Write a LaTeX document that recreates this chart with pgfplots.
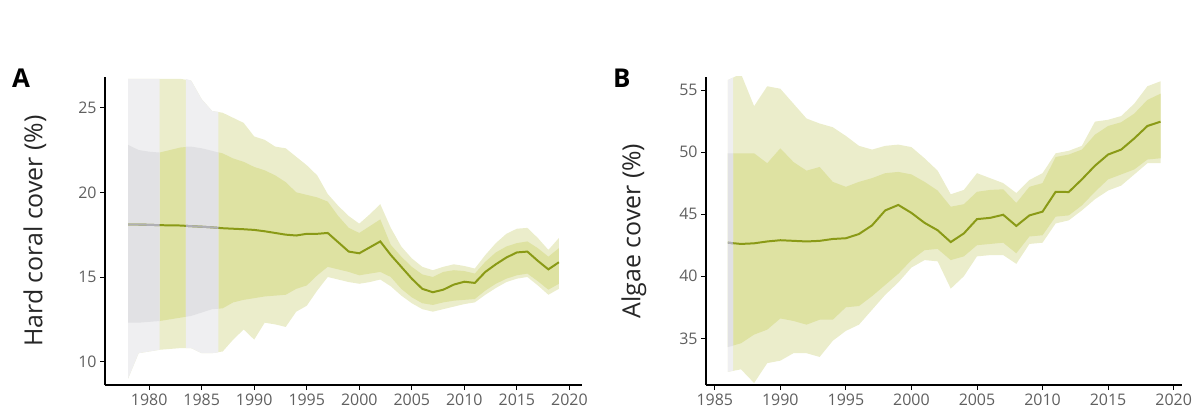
\documentclass[border=0pt]{standalone}
\usepackage{fontspec}
\setmainfont{Open Sans}
\usepackage{pgfplots}
\pgfplotsset{compat=1.18}

\definecolor{gOut}{RGB}{235,237,203}
\definecolor{gIn}{RGB}{222,226,162}
\definecolor{sOut}{RGB}{239,239,241}
\definecolor{sIn}{RGB}{225,225,228}
\definecolor{lineG}{RGB}{138,154,22}
\definecolor{lineS}{RGB}{175,175,180}
\definecolor{tickc}{RGB}{95,95,95}

\pgfplotsset{
  panel/.style={
    scale only axis,
    axis lines*=left,
    axis line style={-, black, line width=1.1pt},
    tick style={black, line width=0.9pt},
    tick align=outside,
    major tick length=5bp,
    ticklabel style={font=\fontsize{16}{16}\selectfont, text=tickc},
    /pgf/number format/assume math mode=true,
    /pgf/number format/1000 sep={},
    xtick={1980,1985,...,2020},
    clip=true,
  },
}

\begin{document}
\begin{tikzpicture}
\path[use as bounding box] (0,0) rectangle (1204bp,414bp);

% Panel A
\begin{axis}[panel, at={(105bp,29bp)}, anchor=south west,
  width=477bp, height=308.3bp,
  xmin=1975.8, xmax=2021.2, ymin=8.62, ymax=26.83,
  ytick={10,15,20,25}]
  % outer band (upper forward, lower backward)
  \addplot[fill=gOut, draw=none] coordinates {
   (1978,26.70) (1979,26.70) (1980,26.70) (1981,26.70) (1982,26.70) (1983,26.70) (1984,26.60)
   (1985,25.50) (1986,24.80) (1987,24.70) (1988,24.40) (1989,24.10) (1990,23.30) (1991,23.10)
   (1992,22.70) (1993,22.60) (1994,22.10) (1995,21.60) (1996,21.00) (1997,19.90) (1998,19.20)
   (1999,18.60) (2000,18.15) (2001,18.70) (2002,19.30) (2003,17.90) (2004,16.80) (2005,16.10)
   (2006,15.60) (2007,15.40) (2008,15.60) (2009,15.75) (2010,15.65) (2011,15.50) (2012,16.30)
   (2013,17.00) (2014,17.55) (2015,17.85) (2016,17.90) (2017,17.30) (2018,16.60) (2019,17.30)
   (2019,14.30) (2018,13.95) (2017,14.50) (2016,15.00) (2015,14.90) (2014,14.70) (2013,14.35)
   (2012,13.95) (2011,13.50) (2010,13.40) (2009,13.25) (2008,13.10) (2007,12.95) (2006,13.10)
   (2005,13.45) (2004,13.90) (2003,14.45) (2002,14.85) (2001,14.70) (2000,14.60) (1999,14.70)
   (1998,14.85) (1997,15.00) (1996,14.20) (1995,13.30) (1994,12.95) (1993,12.05) (1992,12.20)
   (1991,12.30) (1990,11.30) (1989,11.90) (1988,11.30) (1987,10.60) (1986,10.50) (1985,10.50)
   (1984,10.80) (1983,10.80) (1982,10.75) (1981,10.70) (1980,10.60) (1979,10.50) (1978,9.00)
  } -- cycle;
  % inner band
  \addplot[fill=gIn, draw=none] coordinates {
   (1978,22.80) (1979,22.50) (1980,22.40) (1981,22.35) (1982,22.50) (1983,22.65) (1984,22.70)
   (1985,22.60) (1986,22.45) (1987,22.30) (1988,22.00) (1989,21.80) (1990,21.50) (1991,21.30)
   (1992,21.00) (1993,20.60) (1994,20.00) (1995,19.85) (1996,19.70) (1997,19.45) (1998,18.60)
   (1999,17.90) (2000,17.60) (2001,18.00) (2002,18.40) (2003,16.90) (2004,16.20) (2005,15.60)
   (2006,15.15) (2007,15.00) (2008,15.30) (2009,15.40) (2010,15.35) (2011,15.20) (2012,15.90)
   (2013,16.45) (2014,16.80) (2015,17.00) (2016,17.10) (2017,16.70) (2018,16.20) (2019,16.70)
   (2019,14.60) (2018,14.25) (2017,14.75) (2016,15.20) (2015,15.10) (2014,14.90) (2013,14.60)
   (2012,14.20) (2011,13.70) (2010,13.65) (2009,13.60) (2008,13.50) (2007,13.35) (2006,13.45)
   (2005,13.80) (2004,14.30) (2003,15.00) (2002,15.30) (2001,15.20) (2000,15.10) (1999,15.30)
   (1998,15.45) (1997,15.60) (1996,15.10) (1995,14.50) (1994,14.30) (1993,13.95) (1992,13.90)
   (1991,13.85) (1990,13.75) (1989,13.65) (1988,13.50) (1987,13.15) (1986,13.10) (1985,12.90)
   (1984,12.70) (1983,12.60) (1982,12.50) (1981,12.40) (1980,12.35) (1979,12.30) (1978,12.30)
  } -- cycle;
  % grey (gap) segments: outer
  \addplot[fill=sOut, draw=none] coordinates {
   (1978,26.70) (1979,26.70) (1980,26.70) (1981,26.70)
   (1981,10.70) (1980,10.60) (1979,10.50) (1978,9.00)
  } -- cycle;
  \addplot[fill=sOut, draw=none] coordinates {
   (1983.5,26.70) (1984,26.60) (1985,25.50) (1986,24.80) (1986.6,24.75)
   (1986.6,10.55) (1986,10.50) (1985,10.50) (1984,10.80) (1983.5,10.80)
  } -- cycle;
  % grey (gap) segments: inner
  \addplot[fill=sIn, draw=none] coordinates {
   (1978,22.80) (1979,22.50) (1980,22.40) (1981,22.35)
   (1981,12.40) (1980,12.35) (1979,12.30) (1978,12.30)
  } -- cycle;
  \addplot[fill=sIn, draw=none] coordinates {
   (1983.5,22.70) (1984,22.70) (1985,22.60) (1986,22.45) (1986.6,22.35)
   (1986.6,13.12) (1986,13.10) (1985,12.90) (1984,12.70) (1983.5,12.65)
  } -- cycle;
  % mean line
  \addplot[lineG, line width=2pt] coordinates {
   (1978,18.10) (1979,18.10) (1980,18.08) (1981,18.06) (1982,18.05) (1983,18.04) (1984,18.00)
   (1985,17.97) (1986,17.93) (1987,17.88) (1988,17.85) (1989,17.82) (1990,17.78) (1991,17.70)
   (1992,17.60) (1993,17.50) (1994,17.45) (1995,17.55) (1996,17.55) (1997,17.60) (1998,17.05)
   (1999,16.50) (2000,16.40) (2001,16.75) (2002,17.10) (2003,16.30) (2004,15.60) (2005,14.90)
   (2006,14.30) (2007,14.10) (2008,14.25) (2009,14.55) (2010,14.72) (2011,14.65) (2012,15.30)
   (2013,15.75) (2014,16.15) (2015,16.45) (2016,16.50) (2017,15.95) (2018,15.45) (2019,15.87)
  };
  \addplot[lineS, line width=2pt] coordinates {
   (1978,18.10) (1979,18.10) (1980,18.08) (1981,18.06)
  };
  \addplot[lineS, line width=2pt] coordinates {
   (1983.5,18.02) (1984,18.00) (1985,17.97) (1986,17.93) (1986.6,17.90)
  };
\end{axis}

% Panel B
\begin{axis}[panel, at={(706bp,29bp)}, anchor=south west,
  width=476bp, height=308.3bp,
  xmin=1984.33, xmax=2020.64, ymin=31.24, ymax=56.07,
  ytick={35,40,45,50,55}]
  \addplot[fill=gOut, draw=none] coordinates {
   (1986,55.80) (1987,56.30) (1988,53.70) (1989,55.30) (1990,55.10) (1991,53.90) (1992,52.70)
   (1993,52.30) (1994,52.00) (1995,51.30) (1996,50.50) (1997,50.20) (1998,50.50) (1999,50.60)
   (2000,50.40) (2001,49.50) (2002,48.50) (2003,46.60) (2004,46.95) (2005,48.30) (2006,47.90)
   (2007,47.50) (2008,46.70) (2009,47.75) (2010,48.30) (2011,49.90) (2012,50.10) (2013,50.50)
   (2014,52.45) (2015,52.60) (2016,52.90) (2017,53.90) (2018,55.30) (2019,55.70)
   (2019,49.10) (2018,49.10) (2017,48.20) (2016,47.30) (2015,46.90) (2014,46.20) (2013,45.30)
   (2012,44.50) (2011,44.25) (2010,42.70) (2009,42.60) (2008,41.00) (2007,41.70) (2006,41.70)
   (2005,41.60) (2004,40.00) (2003,39.00) (2002,41.20) (2001,41.30) (2000,40.70) (1999,39.50)
   (1998,38.50) (1997,37.30) (1996,36.10) (1995,35.60) (1994,34.80) (1993,33.50) (1992,33.80)
   (1991,33.80) (1990,33.20) (1989,33.00) (1988,31.40) (1987,32.50) (1986,32.30)
  } -- cycle;
  \addplot[fill=gIn, draw=none] coordinates {
   (1986,49.90) (1987,49.90) (1988,49.90) (1989,49.10) (1990,50.30) (1991,49.20) (1992,48.50)
   (1993,48.80) (1994,47.60) (1995,47.20) (1996,47.60) (1997,47.90) (1998,48.30) (1999,48.40)
   (2000,48.20) (2001,47.60) (2002,46.90) (2003,45.60) (2004,45.80) (2005,46.80) (2006,46.95)
   (2007,47.00) (2008,45.90) (2009,47.20) (2010,47.50) (2011,49.60) (2012,49.80) (2013,50.20)
   (2014,51.40) (2015,52.10) (2016,52.40) (2017,53.10) (2018,54.20) (2019,54.70)
   (2019,49.50) (2018,49.40) (2017,48.60) (2016,48.20) (2015,47.80) (2014,46.80) (2013,45.70)
   (2012,44.90) (2011,44.80) (2010,43.30) (2009,43.20) (2008,41.85) (2007,42.70) (2006,42.60)
   (2005,42.50) (2004,41.60) (2003,41.30) (2002,42.20) (2001,42.10) (2000,41.30) (1999,40.20)
   (1998,39.30) (1997,38.40) (1996,37.60) (1995,37.50) (1994,36.50) (1993,36.50) (1992,36.10)
   (1991,36.40) (1990,36.60) (1989,35.70) (1988,35.30) (1987,34.60) (1986,34.30)
  } -- cycle;
  \addplot[fill=sOut, draw=none] coordinates {
   (1986,55.80) (1986.4,56.00) (1986.4,32.40) (1986,32.30)
  } -- cycle;
  \addplot[fill=sIn, draw=none] coordinates {
   (1986,49.90) (1986.4,49.90) (1986.4,34.40) (1986,34.30)
  } -- cycle;
  \addplot[lineG, line width=2pt] coordinates {
   (1986,42.70) (1987,42.60) (1988,42.65) (1989,42.80) (1990,42.90) (1991,42.85) (1992,42.80)
   (1993,42.85) (1994,43.00) (1995,43.06) (1996,43.40) (1997,44.10) (1998,45.30) (1999,45.74)
   (2000,45.10) (2001,44.30) (2002,43.70) (2003,42.75) (2004,43.45) (2005,44.60) (2006,44.70)
   (2007,44.95) (2008,44.05) (2009,44.90) (2010,45.20) (2011,46.80) (2012,46.78) (2013,47.80)
   (2014,48.90) (2015,49.80) (2016,50.20) (2017,51.10) (2018,52.10) (2019,52.45)
  };
  \addplot[lineS, line width=2pt] coordinates {
   (1986,42.70) (1986.4,42.65)
  };
\end{axis}

% labels
\node[rotate=90, font=\fontsize{25}{25}\selectfont, text=black!85] at (35bp,183bp) {Hard coral cover (\%)};
\node[rotate=90, font=\fontsize{25}{25}\selectfont, text=black!85] at (634bp,183bp) {Algae cover (\%)};
\node[anchor=base west, font=\bfseries\fontsize{26}{26}\selectfont, inner sep=0pt] at (12bp,326bp) {A};
\node[anchor=base west, font=\bfseries\fontsize{26}{26}\selectfont, inner sep=0pt] at (613bp,326bp) {B};
\end{tikzpicture}
\end{document}
